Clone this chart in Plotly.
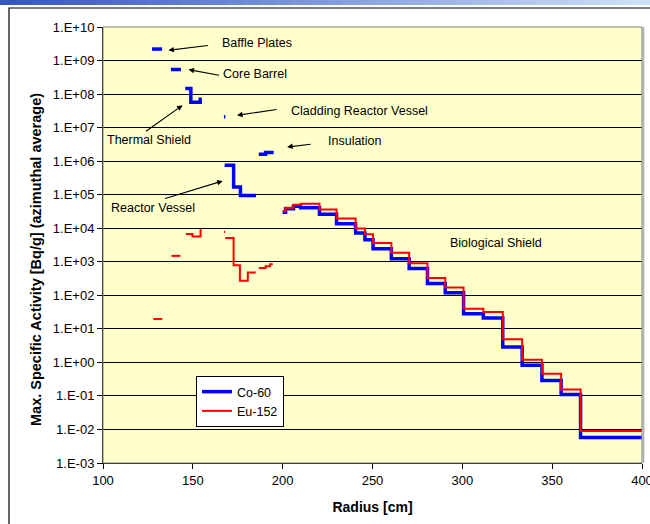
import plotly.graph_objects as go

# ---------------- data ----------------
# Co-60 : each component = (bin edges [cm], activity per bin [Bq/g])
co_baffle_edges = [127.3, 132.9]
co_baffle_vals = [2.2e9]
co_barrel_edges = [137.8, 143.4]
co_barrel_vals = [5.4e8]
co_thermal_edges = [145.8, 148.9, 154.1, 155.0]
co_thermal_vals = [1.46e8, 5.7e7, 7.0e7]
co_cladding_edges = [167.3, 168.1]
co_cladding_vals = [2.1e7]
co_vessel_edges = [167.7, 172.7, 176.5, 185.2]
co_vessel_vals = [7.5e5, 1.7e5, 9.4e4]
co_insul_edges = [186.7, 190.5, 195.0]
co_insul_vals = [1.6e6, 1.8e6]

bio_edges = [200.0, 201.6, 206.0, 210.0, 220.5, 230.0, 240.6, 245.8, 250.3, 260.5,
             270.4, 280.6, 290.5, 300.7, 311.7, 322.5, 333.3, 344.3, 355.0, 365.8, 400.0]
co_bio_vals = [3.0e4, 3.8e4, 4.5e4, 4.1e4, 2.6e4, 1.37e4, 7.2e3, 4.5e3, 2.46e3, 1.24e3,
               6.3e2, 2.25e2, 1.2e2, 28, 21, 2.9, 0.82, 0.29, 0.11, 0.0058]

# Eu-152
eu_baffle_edges = [128.0, 133.0]
eu_baffle_vals = [19.7]
eu_barrel_edges = [138.1, 143.1]
eu_barrel_vals = [1.5e3]
eu_thermal_edges = [146.1, 149.8, 154.3, 155.0]
eu_thermal_vals = [6.7e3, 5.7e3, 8.7e3]
eu_cladding_edges = [167.3, 168.0]
eu_cladding_vals = [7.8e3]
eu_vessel_edges = [168.0, 172.7, 176.2, 180.6, 185.0]
eu_vessel_vals = [5.1e3, 7.9e2, 2.7e2, 4.8e2]
eu_insul_edges = [186.7, 190.5, 193.0, 194.5]
eu_insul_vals = [6.5e2, 7.3e2, 8.4e2]
eu_bio_vals = [3.2e4, 4.1e4, 5.0e4, 5.4e4, 3.6e4, 1.94e4, 9.8e3, 6.6e3, 3.6e3, 1.86e3,
               9.1e2, 3.3e2, 1.7e2, 40, 31.6, 4.9, 1.2, 0.46, 0.155, 0.009]

y_tick_exps = list(range(-3, 11))
y_tick_labels = ["1.E%s%02d" % ("+" if e >= 0 else "-", abs(e)) for e in y_tick_exps]

co_groups = [(co_baffle_edges, co_baffle_vals), (co_barrel_edges, co_barrel_vals),
             (co_thermal_edges, co_thermal_vals), (co_cladding_edges, co_cladding_vals),
             (co_vessel_edges, co_vessel_vals), (co_insul_edges, co_insul_vals),
             (bio_edges, co_bio_vals)]
eu_groups = [(eu_baffle_edges, eu_baffle_vals), (eu_barrel_edges, eu_barrel_vals),
             (eu_thermal_edges, eu_thermal_vals), (eu_cladding_edges, eu_cladding_vals),
             (eu_vessel_edges, eu_vessel_vals), (eu_insul_edges, eu_insul_vals),
             (bio_edges, eu_bio_vals)]


def build(groups):
    xs, ys = [], []
    for edges, vals in groups:
        xs += list(edges) + [None]
        ys += list(vals) + [vals[-1]] + [None]
    return xs, ys


FONT = "Liberation Sans, Arial, sans-serif"
fig = go.Figure()
cx, cy = build(co_groups)
ex, ey = build(eu_groups)
fig.add_trace(go.Scatter(x=cx, y=cy, mode="lines", name="Co-60",
                         line=dict(color="#0000FF", width=3.5, shape="hv"), connectgaps=False))
fig.add_trace(go.Scatter(x=ex, y=ey, mode="lines", name="Eu-152",
                         line=dict(color="#FF0000", width=2, shape="hv"), connectgaps=False))

L, R, T, B = 103, 8, 27, 61
W, H = 650, 524
pw, ph = W - L - R, H - T - B


def px(xp):
    return (xp - L) / pw


def py(yp):
    return (H - B - yp) / ph


shapes = []
# top gradient band
n = 40
for i in range(n):
    f = i / (n - 1)
    c = "rgb(%d,%d,%d)" % (55 + f * (205 - 55), 85 + f * (225 - 85), 195 + f * (248 - 195))
    shapes.append(dict(type="rect", xref="paper", yref="paper",
                       x0=px(i * W / n), x1=px((i + 1) * W / n + 1), y0=py(5), y1=py(0),
                       line=dict(width=0), fillcolor=c, layer="below"))
# outer frame
shapes.append(dict(type="rect", xref="paper", yref="paper", x0=px(9), x1=px(W + 20),
                   y0=py(H + 20), y1=py(8), line=dict(color="black", width=1.2), layer="below"))
# plot border
shapes.append(dict(type="rect", xref="paper", yref="paper", x0=0, x1=1, y0=0, y1=1,
                   line=dict(color="#808080", width=1)))
shapes.append(dict(type="line", xref="paper", yref="paper", x0=1.002, x1=1.002, y0=0, y1=1,
                   line=dict(color="#b0b0b0", width=2.5)))

annotations = []
labels = [("Baffle Plates", 185.9, 9.514), ("Core Barrel", 184.8, 8.59),
          ("Cladding Reactor Vessel", 242.9, 7.51), ("Thermal Shield", 125.4, 6.62),
          ("Insulation", 240.3, 6.59), ("Reactor Vessel", 127.6, 4.59),
          ("Biological Shield", 318.8, 3.55)]
for txt, xx, yy in labels:
    annotations.append(dict(x=xx, y=yy, xref="x", yref="y", text=txt, showarrow=False,
                            font=dict(family=FONT, size=12.5, color="black")))
arrows = [(136.4, 9.305, 41, -5), (147.6, 8.73, 32, 6), (174.6, 7.367, 41, -6),
          (144.25, 7.665, -38, 27), (202.5, 6.422, 25, -3), (166.6, 5.41, -59, 18)]
for xx, yy, axp, ayp in arrows:
    annotations.append(dict(x=xx, y=yy, xref="x", yref="y", text="", showarrow=True,
                            ax=axp, ay=ayp, arrowhead=2, arrowsize=1, arrowwidth=1.1,
                            arrowcolor="black", standoff=0))
# y-axis title (as rotated annotation so it can sit where the reference has it)
annotations.append(dict(x=px(36), y=py(260), xref="paper", yref="paper",
                        text="<b>Max. Specific Activity [Bq/g] (azimuthal average)</b>",
                        textangle=-90, showarrow=False, xanchor="center", yanchor="middle",
                        font=dict(family=FONT, size=14.5, color="black")))

fig.update_layout(
    width=W, height=H, margin=dict(l=L, r=R, t=T, b=B, autoexpand=False),
    paper_bgcolor="white", plot_bgcolor="#FFFFCC",
    font=dict(family=FONT, size=12.5, color="black"),
    shapes=shapes, annotations=annotations,
    showlegend=True,
    legend=dict(x=px(196), y=py(376), xanchor="left", yanchor="top",
                bgcolor="white", bordercolor="black", borderwidth=1,
                font=dict(family=FONT, size=12.5), itemwidth=30, tracegroupgap=0),
    xaxis=dict(range=[100, 400], dtick=50, tick0=100, ticks="outside", ticklen=5,
               tickcolor="black", showline=True, linecolor="black", linewidth=1,
               showgrid=False, zeroline=False, tickfont=dict(family=FONT, size=13),
               ticklabeloverflow="allow",
               title=dict(text="<b>Radius [cm]</b>", font=dict(family=FONT, size=14), standoff=15)),
    yaxis=dict(type="log", range=[-3, 10], tickvals=[10.0 ** e for e in y_tick_exps],
               ticktext=y_tick_labels, ticks="outside", ticklen=5, tickcolor="black",
               showline=True, linecolor="black", linewidth=1,
               showgrid=True, gridcolor="black", gridwidth=1, zeroline=False,
               tickfont=dict(family=FONT, size=13), ticklabeloverflow="allow"),
)

fig.write_html("out.html", config={"displayModeBar": False},
               post_script="document.body.style.margin='0';document.body.style.overflow='hidden';")
